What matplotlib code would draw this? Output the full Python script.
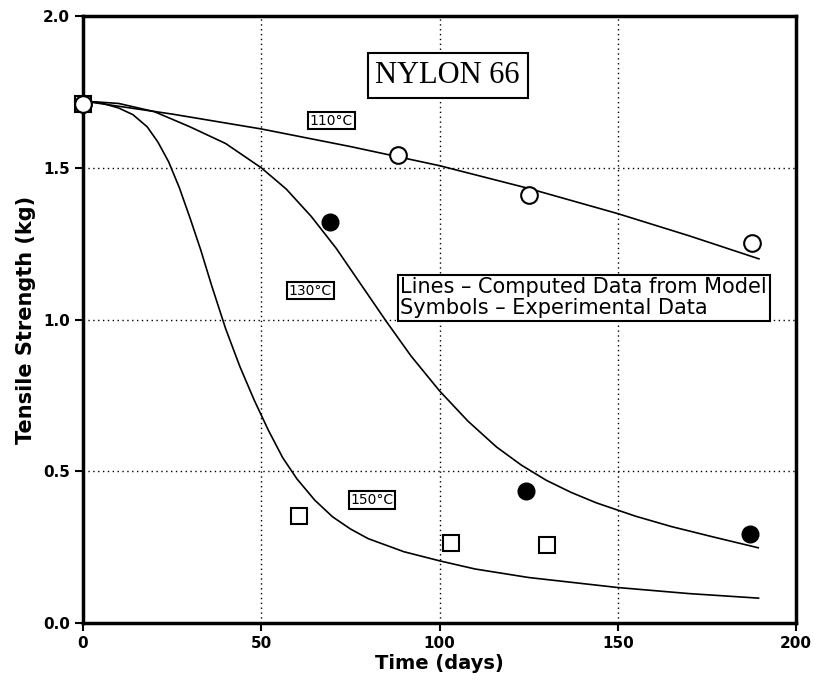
import matplotlib
matplotlib.use("Agg")
import matplotlib.pyplot as plt

# model curves
t110 = [0, 25, 50, 75, 100, 125, 150, 170, 189.6]
s110 = [1.72, 1.677, 1.628, 1.570, 1.507, 1.432, 1.349, 1.276, 1.200]

t130 = [0, 10, 20, 30, 40, 50, 57, 64, 71, 78, 85, 92, 100, 108, 116, 123, 130, 137, 144,
        155, 165, 177, 189.4]
s130 = [1.72, 1.712, 1.685, 1.635, 1.58, 1.50, 1.43, 1.34, 1.235, 1.115, 0.995, 0.88, 0.765,
        0.665, 0.58, 0.52, 0.47, 0.43, 0.396, 0.352, 0.318, 0.283, 0.248]

t150 = [0, 5, 10, 14, 18, 21, 24, 27, 30, 33, 36, 40, 44, 48, 52, 56, 60, 65, 70, 75, 80, 90,
        100, 110, 125, 150, 170, 189.5]
s150 = [1.72, 1.714, 1.697, 1.675, 1.635, 1.585, 1.52, 1.435, 1.335, 1.23, 1.115, 0.97, 0.845,
        0.735, 0.635, 0.545, 0.475, 0.405, 0.35, 0.31, 0.278, 0.235, 0.205, 0.178, 0.15, 0.117,
        0.097, 0.082]

# experimental points
exp110_t = [0, 88.3, 125.2, 187.6]
exp110_s = [1.71, 1.543, 1.41, 1.251]
exp130_t = [0, 69.4, 124.4, 187.1]
exp130_s = [1.71, 1.32, 0.435, 0.293]
exp150_t = [0, 60.7, 103.3, 130.2]
exp150_s = [1.71, 0.352, 0.265, 0.257]

fig = plt.figure(figsize=(8.18, 6.83), dpi=100)
ax = fig.add_axes([0.1015, 0.0878, 0.8716, 0.8887])

for t, s in ((t110, s110), (t130, s130), (t150, s150)):
    ax.plot(t, s, color="black", lw=1.2, zorder=3)

ax.plot(exp150_t, exp150_s, "s", ms=11, mfc="white", mec="black", mew=1.5, zorder=4, clip_on=False)
ax.plot(exp130_t, exp130_s, "o", ms=12, mfc="black", mec="black", zorder=5, clip_on=False)
ax.plot(exp110_t, exp110_s, "o", ms=12, mfc="white", mec="black", mew=1.5, zorder=6, clip_on=False)

box = dict(boxstyle="square,pad=0.12", fc="white", ec="black", lw=1.5)
for txt, x, y in (("110°C", 69.7, 1.655), ("130°C", 63.8, 1.095), ("150°C", 81.1, 0.405)):
    ax.text(x, y, txt, fontsize=10, ha="center", va="center", bbox=box, zorder=7)

ax.text(102.3, 1.804, "NYLON 66", fontsize=22, family="Liberation Serif", ha="center", va="center",
        bbox=dict(boxstyle="square,pad=0.25", fc="white", ec="black", lw=1.5), zorder=7)

ax.text(89.0, 1.072, "Lines – Computed Data from Model\nSymbols – Experimental Data",
        fontsize=15, ha="left", va="center", linespacing=1.05, multialignment="left",
        bbox=dict(boxstyle="square,pad=0.12", fc="white", ec="black", lw=1.5), zorder=7)

ax.set_xlim(0, 200)
ax.set_ylim(0, 2.0)
ax.set_xticks([0, 50, 100, 150, 200])
ax.set_yticks([0.0, 0.5, 1.0, 1.5, 2.0])
ax.set_yticklabels(["0.0", "0.5", "1.0", "1.5", "2.0"])
ax.grid(True, linestyle=(0, (1, 2.5)), color="black", lw=1.0)
ax.tick_params(direction="out", length=6, width=1.5, labelsize=11)
for lab in ax.get_xticklabels() + ax.get_yticklabels():
    lab.set_fontweight("bold")
for sp in ax.spines.values():
    sp.set_linewidth(2.5)

ax.set_xlabel("Time (days)", fontsize=14, fontweight="bold", labelpad=2)
ax.set_ylabel("Tensile Strength (kg)", fontsize=15, fontweight="bold", labelpad=5)

fig.savefig("out.png", dpi=100)
